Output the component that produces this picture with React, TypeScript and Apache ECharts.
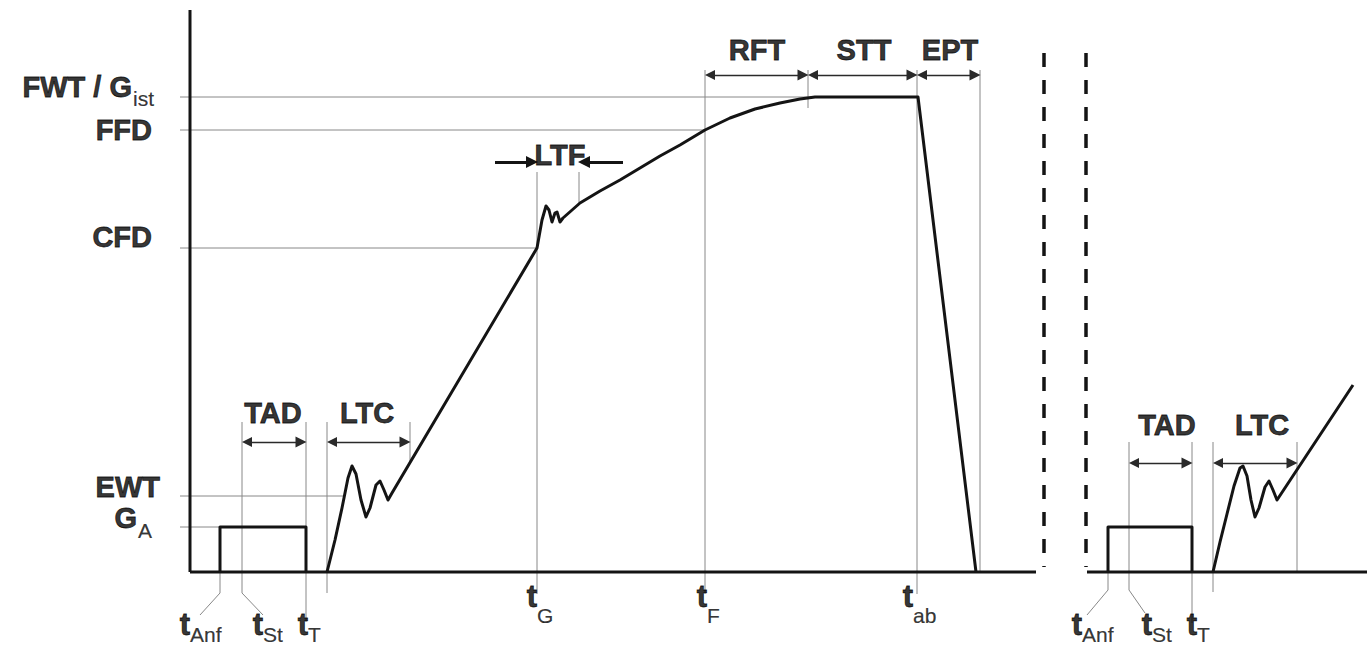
import React, { useEffect, useRef } from 'react';
import * as echarts from 'echarts';

// Axis domain (time units / value units)
const X_MIN = -190;
const X_MAX = 1177;
const Y_MIN = -73;
const Y_MAX = 572;

// Value levels on the vertical axis
const levelNames = ['FWT / G_ist', 'FFD', 'CFD', 'EWT', 'G_A'];
const levelValues = [475, 442, 324, 76, 45];
const levelLineEnds = [630, 515, 347, 153, 30];

// Time markers (vertical reference lines)
const markerNames = ['tAnf', 'tSt', 'tT', 'ltcStart', 'ltcEnd', 'tG', 'ltfEnd', 'tF', 'rftEnd', 'tab', 'eptEnd', 'tAnf2', 'tSt2', 'tT2', 'ltc2Start', 'ltc2End'];
const markerTimes = [30, 52, 116, 137, 220, 347, 389, 515, 618, 727, 790, 918, 939, 1002, 1023, 1107];
const markerTops = [0, 150, 150, 150, 150, 400, 400, 502, 502, 502, 502, 0, 130, 130, 130, 130];
const markerBottoms = [-21, -21, -50, -21, 109, -22, 369, -22, 464, -22, 0, -18, -18, -51, -20, 0];
// leader lines from marker foot to its label: [markerIndex, x, y]
const leaderEnds: [number, number, number][] = [[0, 10, -43], [1, 73, -43], [11, 897, -43], [12, 955, -41]];

// Signal pulses (G_A)
const pulse1 = [[30, 0], [30, 45], [116, 45], [116, 0]];
const pulse2 = [[918, 0], [918, 45], [1002, 45], [1002, 0]];

// Main process curve
const mainCurve = [
  [137, 0], [145, 32], [152, 64], [158, 94], [162, 106], [166, 98], [171, 72], [176, 55], [180, 64],
  [186, 87], [190, 91], [194, 82], [198, 72], [202, 79], [347, 324], [352, 352], [356, 366], [359, 362],
  [362, 350], [365, 359], [367, 360], [370, 350], [373, 354], [390, 369], [410, 381], [430, 392],
  [450, 404], [470, 416], [490, 427], [515, 442], [540, 454], [565, 463], [590, 469], [610, 473],
  [625, 475], [728, 475], [786, 0],
];
// Second cycle curve
const secondCurve = [
  [1023, 0], [1030, 30], [1037, 58], [1044, 86], [1050, 104], [1053, 106], [1057, 96], [1061, 72],
  [1065, 55], [1069, 64], [1075, 85], [1079, 91], [1083, 82], [1087, 72], [1163, 187],
];

// Axis segments
const yAxisSeg = [[0, 0], [0, 562]];
const xAxisSegs = [[[0, 0], [846, 0]], [[897, 0], [1177, 0]]];
const breakLines = [[[854, 519], [854, 5]], [[896, 519], [896, 5]]];

// Interval arrows (double headed)
const intervalNames = ['TAD', 'LTC', 'RFT', 'STT', 'EPT', 'TAD', 'LTC'];
const intervalFrom = [52, 137, 515, 618, 727, 939, 1023];
const intervalTo = [116, 220, 618, 727, 790, 1002, 1107];
const intervalLevel = [130, 130, 497, 497, 497, 109, 109];
// LTF inward arrows
const ltfArrows = [[[305, 410], [347, 410]], [[433, 410], [389, 410]]];

// Text labels: [text, x, y, align]
const bigLabels: [string, number, number, string][] = [
  ['FWT / G', -58, 485, 'right'], ['FFD', -38, 442, 'right'], ['CFD', -38, 335, 'right'],
  ['EWT', -30, 85, 'right'], ['G', -53, 54, 'right'],
  ['TAD', 83, 159, 'center'], ['LTC', 177, 159, 'center'], ['LTF', 370, 417, 'center'],
  ['RFT', 567, 522, 'center'], ['STT', 674, 522, 'center'], ['EPT', 760, 522, 'center'],
  ['TAD', 977, 147, 'center'], ['LTC', 1072, 147, 'center'],
];
const tLabels: [string, number, number, string][] = [
  ['t', 0, -52, 'right'], ['t', 73, -52, 'right'], ['t', 118, -52, 'right'],
  ['t', 347, -24, 'right'], ['t', 517, -24, 'right'], ['t', 723, -24, 'right'],
  ['t', 892, -52, 'right'], ['t', 962, -52, 'right'], ['t', 1007, -52, 'right'],
];
const subLabels: [string, number, number, string][] = [
  ['ist', -57, 474, 'left'], ['A', -52, 42, 'left'],
  ['Anf', 0, -62, 'left'], ['St', 73, -62, 'left'], ['T', 118, -62, 'left'],
  ['G', 347, -43, 'left'], ['F', 517, -43, 'left'], ['ab', 723, -43, 'left'],
  ['Anf', 892, -62, 'left'], ['St', 962, -62, 'left'], ['T', 1007, -62, 'left'],
];

const FONT = '"Liberation Sans", Arial, Helvetica, sans-serif';
const INK = '#000000';
const LINE_INK = '#141414';
const GRAY = '#888888';
const ARROW_INSET = 5;

export default function App() {
  const ref = useRef<HTMLDivElement>(null);
  useEffect(() => {
    if (!ref.current) return;
    const chart = echarts.init(ref.current, null, { renderer: 'svg' });

    const thinLines: any[] = [];
    levelValues.forEach((v, i) => {
      thinLines.push({ name: levelNames[i], coords: [[-10, v], [levelLineEnds[i], v]] });
    });
    markerTimes.forEach((t, i) => {
      const coords: number[][] = [[t, markerTops[i]], [t, markerBottoms[i]]];
      leaderEnds.forEach(([idx, lx, ly]) => {
        if (idx === i) coords.push([lx, ly]);
      });
      thinLines.push({ name: markerNames[i], coords });
    });

    const thickLines: any[] = [
      { coords: yAxisSeg },
      ...xAxisSegs.map((s) => ({ coords: s })),
      { coords: pulse1 },
      { coords: pulse2 },
      { coords: mainCurve },
      { coords: secondCurve },
    ];

    const arrows = intervalFrom.map((f, i) => ({
      name: intervalNames[i],
      coords: [[f + ARROW_INSET, intervalLevel[i]], [intervalTo[i] - ARROW_INSET, intervalLevel[i]]],
    }));
    const ltf = ltfArrows.map((a) => {
      const dir = Math.sign(a[1][0] - a[0][0]);
      return { coords: [a[0], [a[1][0] - dir * ARROW_INSET, a[1][1]]] };
    });

    const mkLabel = (arr: [string, number, number, string][], size: number, weight: string, border: number) =>
      arr.map(([text, x, y, align]) => ({
        value: [x, y],
        label: {
          show: true,
          position: 'inside',
          formatter: text,
          align,
          verticalAlign: 'middle',
          fontSize: size,
          fontWeight: weight,
          fontFamily: FONT,
          color: INK,
          textBorderColor: INK,
          textBorderWidth: border,
        },
      }));

    const option: any = {
      animation: false,
      backgroundColor: '#ffffff',
      grid: { left: 0, right: 0, top: 0, bottom: 0, containLabel: false },
      xAxis: { type: 'value', min: X_MIN, max: X_MAX, show: false },
      yAxis: { type: 'value', min: Y_MIN, max: Y_MAX, show: false },
      series: [
        {
          type: 'lines', coordinateSystem: 'cartesian2d', polyline: true, silent: true,
          lineStyle: { color: GRAY, width: 1, opacity: 1 },
          data: thinLines,
        },
        {
          type: 'lines', coordinateSystem: 'cartesian2d', silent: true,
          symbol: ['triangle', 'triangle'], symbolSize: [10, 11],
          lineStyle: { color: '#2a2a2a', width: 1.4, opacity: 1 },
          data: arrows,
        },
        {
          type: 'lines', coordinateSystem: 'cartesian2d', silent: true,
          symbol: ['none', 'triangle'], symbolSize: [11, 12],
          lineStyle: { color: LINE_INK, width: 3, opacity: 1 },
          data: ltf,
        },
        {
          type: 'lines', coordinateSystem: 'cartesian2d', polyline: true, silent: true,
          lineStyle: { color: LINE_INK, width: 3, opacity: 1, join: 'round' },
          data: thickLines,
        },
        {
          type: 'lines', coordinateSystem: 'cartesian2d', silent: true,
          lineStyle: { color: LINE_INK, width: 3.5, opacity: 1, type: [14, 13] },
          data: breakLines.map((b) => ({ coords: b })),
        },
        {
          type: 'scatter', silent: true, symbolSize: 1, itemStyle: { color: 'rgba(0,0,0,0)' },
          data: [
            ...mkLabel(bigLabels, 29, 'bold', 0.8),
            ...mkLabel(tLabels, 31, 'bold', 0.8),
            ...mkLabel(subLabels, 21, 'normal', 0.2),
          ],
        },
      ],
    };
    chart.setOption(option);
    return () => chart.dispose();
  }, []);
  return (
    <div
      ref={ref}
      style={{ position: 'fixed', left: 0, top: 0, width: 1367, height: 645, background: '#fff' }}
    />
  );
}
